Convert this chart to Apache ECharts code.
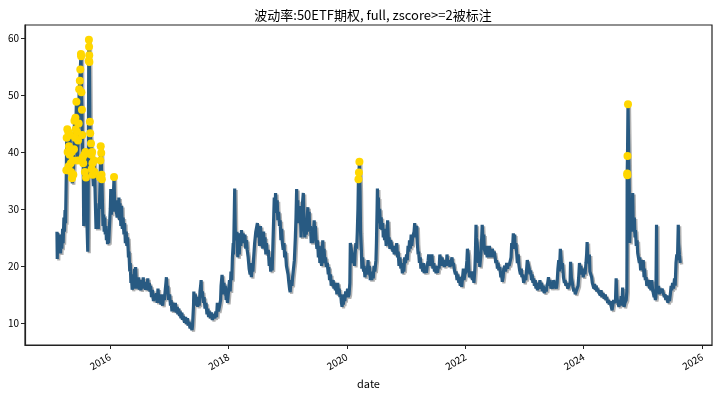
<!DOCTYPE html>
<html>
<head>
<meta charset="utf-8">
<script src="https://cdn.jsdelivr.net/npm/echarts@6/dist/echarts.min.js"></script>
<style>html,body{margin:0;padding:0;background:#fff}#c{width:720px;height:396px}</style>
</head>
<body>
<div id="c"></div>
<script>
const titleText = '波动率:50ETF期权, full, zscore>=2被标注';
const xName = 'date';
const yTicks = [10, 20, 30, 40, 50, 60];
const xTickDates = ['2016-01-01', '2018-01-01', '2020-01-01', '2022-01-01', '2024-01-01', '2026-01-01'];
const xTickLabels = ['2016', '2018', '2020', '2022', '2024', '2026'];
const markThreshold = 35;

const vol2015 = [
['2015-02-09',26.0],['2015-02-11',21.2],['2015-02-13',25.8],['2015-02-17',23.0],['2015-02-26',25.5],['2015-03-03',22.2],
['2015-03-06',25.0],['2015-03-11',23.0],['2015-03-16',26.5],['2015-03-19',24.0],['2015-03-24',28.5],['2015-03-27',26.0],
['2015-03-31',29.8],['2015-04-03',27.5],['2015-04-08',36.8],['2015-04-10',42.5],['2015-04-14',44.0],['2015-04-16',40.0],
['2015-04-20',43.5],['2015-04-22',37.5],['2015-04-24',41.0],['2015-04-28',39.5],['2015-04-30',43.0],['2015-05-05',38.0],
['2015-05-07',36.5],['2015-05-11',40.0],['2015-05-13',35.4],['2015-05-15',34.5],['2015-05-18',38.5],['2015-05-21',36.0],
['2015-05-25',40.5],['2015-05-28',45.5],['2015-06-01',42.5],['2015-06-03',46.0],['2015-06-05',44.0],['2015-06-09',48.8],
['2015-06-12',43.5],['2015-06-16',38.5],['2015-06-19',42.0],['2015-06-23',45.0],['2015-06-26',51.0],['2015-06-30',52.5],
['2015-07-03',54.5],['2015-07-07',57.2],['2015-07-08',56.8],['2015-07-10',50.5],['2015-07-13',47.4],['2015-07-15',43.0],
['2015-07-17',39.0],['2015-07-21',38.0],['2015-07-24',27.0],['2015-07-28',39.5],['2015-07-31',36.5],['2015-08-04',40.0],
['2015-08-07',35.5],['2015-08-11',30.0],['2015-08-14',26.5],['2015-08-18',22.5],['2015-08-20',30.0],['2015-08-24',56.0],
['2015-08-25',59.7],['2015-08-26',58.5],['2015-08-27',57.0],['2015-08-28',55.8],['2015-08-31',45.3],['2015-09-02',43.3],
['2015-09-07',41.5],['2015-09-09',39.5],['2015-09-11',37.0],['2015-09-14',40.0],['2015-09-16',38.0],['2015-09-18',36.0],
['2015-09-22',34.0],['2015-09-25',38.5],['2015-09-29',36.5],['2015-10-08',26.5],['2015-10-12',30.0],['2015-10-15',27.0],
['2015-10-19',29.5],['2015-10-22',26.5],['2015-10-26',31.0],['2015-10-29',30.0],['2015-11-02',35.5],['2015-11-04',38.5],
['2015-11-06',41.0],['2015-11-09',39.8],['2015-11-11',36.0],['2015-11-13',35.2],['2015-11-17',30.5],['2015-11-20',27.0],
['2015-11-24',29.0],['2015-11-27',26.0],['2015-12-01',28.5],['2015-12-04',25.5],['2015-12-08',27.0],['2015-12-11',24.5],
['2015-12-15',26.0],['2015-12-18',23.8],['2015-12-22',25.0],['2015-12-25',24.0],['2015-12-29',26.5]
];
const vol2016 = [
['2016-01-04',30.0],['2016-01-07',33.5],['2016-01-11',29.0],['2016-01-15',32.5],['2016-01-19',29.5],['2016-01-22',31.5],
['2016-01-27',35.6],['2016-01-29',33.0],['2016-02-02',29.5],['2016-02-05',31.0],['2016-02-15',28.5],['2016-02-18',31.5],
['2016-02-23',29.0],['2016-02-26',32.0],['2016-03-01',28.0],['2016-03-04',31.0],['2016-03-09',27.0],['2016-03-14',30.5],
['2016-03-18',26.5],['2016-03-23',28.5],['2016-03-28',25.5],['2016-04-01',27.5],['2016-04-06',24.0],['2016-04-11',26.0],
['2016-04-15',23.5],['2016-04-20',25.0],['2016-04-25',21.5],['2016-04-28',22.5],['2016-05-03',19.0],['2016-05-06',20.5],
['2016-05-10',17.0],['2016-05-13',18.5],['2016-05-18',15.8],['2016-05-23',17.5],['2016-05-27',16.0],['2016-06-01',19.5],
['2016-06-06',16.2],['2016-06-08',19.8],['2016-06-14',16.0],['2016-06-17',17.5],['2016-06-22',16.0],['2016-06-27',18.0],
['2016-07-01',15.8],['2016-07-06',17.0],['2016-07-11',15.7],['2016-07-15',17.5],['2016-07-20',16.0],['2016-07-25',18.0],
['2016-07-29',16.0],['2016-08-03',17.2],['2016-08-08',15.8],['2016-08-12',17.0],['2016-08-17',16.0],['2016-08-22',17.8],
['2016-08-26',15.7],['2016-08-31',17.0],['2016-09-05',15.5],['2016-09-09',16.5],['2016-09-14',14.5],['2016-09-20',15.8],
['2016-09-26',13.8],['2016-09-30',15.0],['2016-10-10',14.0],['2016-10-14',15.2],['2016-10-19',13.5],['2016-10-24',16.0],
['2016-10-28',14.5],['2016-11-02',13.5],['2016-11-08',15.0],['2016-11-11',13.2],['2016-11-16',14.5],['2016-11-22',13.0],
['2016-11-28',15.0],['2016-12-02',14.0],['2016-12-07',15.5],['2016-12-12',17.0],['2016-12-15',18.0],['2016-12-20',15.5],
['2016-12-23',16.5],['2016-12-28',14.0]
];
const vol2017 = [
['2017-01-04',15.0],['2017-01-09',13.0],['2017-01-13',14.0],['2017-01-18',12.0],['2017-01-23',13.5],['2017-02-03',12.0],
['2017-02-08',13.5],['2017-02-14',11.8],['2017-02-20',12.8],['2017-02-24',11.5],['2017-03-01',12.5],['2017-03-06',11.2],
['2017-03-10',12.0],['2017-03-15',10.8],['2017-03-20',11.8],['2017-03-24',10.5],['2017-03-30',11.2],['2017-04-06',10.0],
['2017-04-12',11.0],['2017-04-18',9.8],['2017-04-24',10.8],['2017-04-28',9.5],['2017-05-04',10.2],['2017-05-10',9.0],
['2017-05-15',9.8],['2017-05-22',8.7],['2017-05-25',9.5],['2017-05-31',13.0],['2017-06-02',15.5],['2017-06-07',13.0],
['2017-06-12',15.0],['2017-06-16',13.5],['2017-06-21',14.5],['2017-06-26',12.8],['2017-06-30',14.5],['2017-07-05',13.0],
['2017-07-10',15.5],['2017-07-14',16.5],['2017-07-17',17.5],['2017-07-20',14.5],['2017-07-25',15.5],['2017-07-31',13.5],
['2017-08-04',14.5],['2017-08-10',12.5],['2017-08-16',13.5],['2017-08-22',11.5],['2017-08-28',12.5],['2017-09-01',11.0],
['2017-09-07',12.0],['2017-09-13',10.8],['2017-09-19',11.8],['2017-09-25',10.5],['2017-09-29',11.5],['2017-10-10',10.8],
['2017-10-16',12.0],['2017-10-20',11.0],['2017-10-25',13.5],['2017-11-01',12.0],['2017-11-08',13.0],['2017-11-14',14.0],
['2017-11-17',16.5],['2017-11-23',18.4],['2017-11-27',17.0],['2017-11-30',15.0],['2017-12-05',17.0],['2017-12-08',15.5],
['2017-12-13',16.5],['2017-12-18',14.0],['2017-12-22',14.5],['2017-12-27',13.5]
];
const vol2018 = [
['2018-01-03',16.0],['2018-01-08',17.5],['2018-01-12',15.5],['2018-01-17',19.0],['2018-01-22',17.5],['2018-01-26',21.5],
['2018-01-31',24.0],['2018-02-02',22.0],['2018-02-06',28.5],['2018-02-09',33.6],['2018-02-12',27.0],['2018-02-14',24.5],
['2018-02-23',26.0],['2018-02-28',21.5],['2018-03-05',24.5],['2018-03-09',22.0],['2018-03-14',25.7],['2018-03-19',23.5],
['2018-03-23',26.3],['2018-03-28',24.0],['2018-04-02',25.7],['2018-04-09',24.0],['2018-04-13',25.5],['2018-04-18',23.0],
['2018-04-23',24.5],['2018-04-27',22.8],['2018-05-03',21.5],['2018-05-09',19.5],['2018-05-15',18.5],['2018-05-18',20.5],
['2018-05-23',18.0],['2018-05-28',20.0],['2018-06-01',19.0],['2018-06-06',21.5],['2018-06-12',24.0],['2018-06-19',26.0],
['2018-06-25',25.7],['2018-06-29',27.5],['2018-07-04',25.0],['2018-07-09',26.5],['2018-07-13',23.5],['2018-07-18',27.0],
['2018-07-23',24.0],['2018-07-27',25.5],['2018-08-01',23.0],['2018-08-06',26.0],['2018-08-10',23.5],['2018-08-15',25.0],
['2018-08-20',22.0],['2018-08-24',24.0],['2018-08-29',22.0],['2018-09-04',22.8],['2018-09-10',20.0],['2018-09-14',21.5],
['2018-09-19',19.0],['2018-09-25',20.5],['2018-09-28',19.2],['2018-10-08',29.0],['2018-10-11',32.0],['2018-10-16',30.0],
['2018-10-19',32.8],['2018-10-24',29.3],['2018-10-29',31.5],['2018-11-02',28.0],['2018-11-07',29.5],['2018-11-12',27.0],
['2018-11-16',28.0],['2018-11-21',24.5],['2018-11-26',26.5],['2018-11-30',24.0],['2018-12-05',22.8],['2018-12-10',24.0],
['2018-12-14',21.5],['2018-12-19',22.5],['2018-12-25',20.0],['2018-12-28',19.8]
];
const vol2019 = [
['2019-01-04',18.5],['2019-01-09',17.0],['2019-01-14',15.8],['2019-01-17',15.4],['2019-01-22',17.5],['2019-01-28',16.5],
['2019-02-01',18.0],['2019-02-12',21.0],['2019-02-18',25.0],['2019-02-22',28.5],['2019-02-26',33.5],['2019-03-01',30.0],
['2019-03-05',31.5],['2019-03-08',27.5],['2019-03-12',30.0],['2019-03-15',28.0],['2019-03-20',30.5],['2019-03-25',25.0],
['2019-03-29',28.0],['2019-04-03',31.0],['2019-04-08',32.8],['2019-04-12',28.5],['2019-04-17',25.0],['2019-04-22',27.0],
['2019-04-26',25.5],['2019-05-06',30.3],['2019-05-09',27.5],['2019-05-14',29.5],['2019-05-17',26.0],['2019-05-22',27.0],
['2019-05-27',24.0],['2019-05-31',25.5],['2019-06-05',24.0],['2019-06-11',26.5],['2019-06-14',28.0],['2019-06-18',25.5],
['2019-06-21',27.0],['2019-06-26',24.5],['2019-07-01',23.0],['2019-07-05',24.5],['2019-07-10',21.5],['2019-07-15',23.5],
['2019-07-19',20.5],['2019-07-24',22.0],['2019-07-30',20.0],['2019-08-02',21.5],['2019-08-06',24.5],['2019-08-09',22.0],
['2019-08-14',23.0],['2019-08-19',20.5],['2019-08-23',21.5],['2019-08-28',19.8],['2019-09-03',20.5],['2019-09-09',18.5],
['2019-09-12',19.8],['2019-09-17',17.5],['2019-09-23',18.5],['2019-09-27',16.5],['2019-10-09',17.5],['2019-10-14',16.0],
['2019-10-18',17.0],['2019-10-23',15.7],['2019-10-28',16.5],['2019-11-01',15.0],['2019-11-06',17.0],['2019-11-11',15.5],
['2019-11-15',16.0],['2019-11-20',14.5],['2019-11-25',15.0],['2019-11-29',13.5],['2019-12-03',12.8],['2019-12-06',14.0],
['2019-12-11',13.2],['2019-12-16',15.0],['2019-12-20',13.8],['2019-12-25',15.5],['2019-12-31',14.5]
];
const vol2020 = [
['2020-01-06',16.0],['2020-01-10',14.5],['2020-01-15',15.0],['2020-01-20',17.0],['2020-01-23',24.0],['2020-02-03',22.0],
['2020-02-07',20.5],['2020-02-12',21.5],['2020-02-18',20.0],['2020-02-21',22.0],['2020-02-26',24.0],['2020-03-02',23.0],
['2020-03-06',26.0],['2020-03-10',30.0],['2020-03-13',35.2],['2020-03-16',36.4],['2020-03-19',38.3],['2020-03-23',33.0],
['2020-03-26',26.0],['2020-03-31',22.8],['2020-04-03',19.5],['2020-04-08',21.5],['2020-04-14',19.0],['2020-04-17',20.0],
['2020-04-22',18.0],['2020-04-27',19.5],['2020-05-06',18.5],['2020-05-11',21.0],['2020-05-15',18.5],['2020-05-20',20.0],
['2020-05-25',17.5],['2020-05-29',19.0],['2020-06-03',17.5],['2020-06-08',18.5],['2020-06-12',17.8],['2020-06-17',20.0],
['2020-06-22',19.0],['2020-06-29',21.0],['2020-07-02',24.0],['2020-07-06',30.0],['2020-07-08',33.6],['2020-07-10',30.5],
['2020-07-14',32.0],['2020-07-17',27.5],['2020-07-22',30.0],['2020-07-27',26.5],['2020-07-31',28.5],['2020-08-05',26.3],
['2020-08-10',27.5],['2020-08-13',25.0],['2020-08-18',26.5],['2020-08-21',24.5],['2020-08-26',26.0],['2020-08-31',23.5],
['2020-09-04',25.5],['2020-09-09',28.0],['2020-09-14',24.0],['2020-09-18',25.0],['2020-09-23',23.0],['2020-09-28',24.5],
['2020-10-12',22.5],['2020-10-15',23.5],['2020-10-20',22.0],['2020-10-26',23.5],['2020-10-30',22.0],['2020-11-04',24.0],
['2020-11-09',21.5],['2020-11-13',22.5],['2020-11-18',20.0],['2020-11-24',21.5],['2020-11-30',19.5],['2020-12-04',20.5],
['2020-12-09',18.7],['2020-12-14',20.0],['2020-12-18',19.0],['2020-12-23',21.5],['2020-12-28',20.5]
];
const vol2021 = [
['2021-01-04',22.0],['2021-01-08',21.0],['2021-01-13',23.5],['2021-01-18',22.5],['2021-01-22',24.5],['2021-01-27',23.0],
['2021-02-01',25.5],['2021-02-05',23.5],['2021-02-10',25.0],['2021-02-19',26.0],['2021-02-23',27.5],['2021-02-26',25.0],
['2021-03-03',26.5],['2021-03-08',27.0],['2021-03-11',24.0],['2021-03-16',22.0],['2021-03-19',22.5],['2021-03-24',20.5],
['2021-03-29',21.5],['2021-04-02',19.5],['2021-04-08',20.5],['2021-04-13',19.0],['2021-04-19',20.5],['2021-04-23',18.7],
['2021-04-28',19.5],['2021-05-06',18.8],['2021-05-11',20.0],['2021-05-17',21.0],['2021-05-20',22.0],['2021-05-25',20.0],
['2021-05-31',21.5],['2021-06-04',20.5],['2021-06-09',22.0],['2021-06-15',19.5],['2021-06-21',20.5],['2021-06-25',19.0],
['2021-06-30',20.0],['2021-07-05',18.7],['2021-07-09',19.5],['2021-07-14',18.8],['2021-07-19',20.0],['2021-07-23',19.5],
['2021-07-28',22.0],['2021-08-02',21.0],['2021-08-06',20.0],['2021-08-11',21.5],['2021-08-16',20.0],['2021-08-20',21.0],
['2021-08-25',19.8],['2021-08-31',21.0],['2021-09-06',20.0],['2021-09-10',22.0],['2021-09-15',20.5],['2021-09-22',21.0],
['2021-09-28',19.8],['2021-10-11',21.5],['2021-10-15',20.0],['2021-10-20',20.5],['2021-10-26',19.2],['2021-11-01',18.5],
['2021-11-05',19.0],['2021-11-11',17.5],['2021-11-16',18.5],['2021-11-22',17.0],['2021-11-26',18.0],['2021-12-01',16.5],
['2021-12-06',17.5],['2021-12-10',16.3],['2021-12-15',18.0],['2021-12-20',19.5],['2021-12-24',17.5],['2021-12-29',18.5]
];
const vol2022 = [
['2022-01-05',19.0],['2022-01-11',21.0],['2022-01-14',23.0],['2022-01-19',22.0],['2022-01-24',19.0],['2022-01-28',18.0],
['2022-02-08',19.0],['2022-02-14',17.5],['2022-02-18',18.5],['2022-02-23',17.0],['2022-03-01',19.5],['2022-03-04',22.0],
['2022-03-08',27.2],['2022-03-10',25.0],['2022-03-15',24.0],['2022-03-18',22.8],['2022-03-23',20.5],['2022-03-28',21.5],
['2022-03-31',19.8],['2022-04-07',22.0],['2022-04-12',25.0],['2022-04-15',27.2],['2022-04-20',24.5],['2022-04-25',25.5],
['2022-04-28',23.0],['2022-05-06',22.0],['2022-05-11',23.5],['2022-05-16',21.5],['2022-05-20',22.5],['2022-05-25',21.5],
['2022-05-30',23.5],['2022-06-02',22.0],['2022-06-08',22.5],['2022-06-13',21.5],['2022-06-17',23.0],['2022-06-22',21.5],
['2022-06-28',22.5],['2022-07-04',21.5],['2022-07-08',20.5],['2022-07-13',21.0],['2022-07-18',19.5],['2022-07-22',20.5],
['2022-07-27',19.2],['2022-08-02',19.8],['2022-08-08',18.0],['2022-08-12',19.0],['2022-08-17',17.2],['2022-08-22',18.0],
['2022-08-26',19.5],['2022-09-01',20.0],['2022-09-06',19.0],['2022-09-13',20.5],['2022-09-19',19.5],['2022-09-23',20.5],
['2022-09-28',20.0],['2022-10-10',21.5],['2022-10-14',24.0],['2022-10-19',23.0],['2022-10-24',25.7],['2022-10-27',24.5],
['2022-11-01',25.5],['2022-11-04',23.0],['2022-11-09',24.0],['2022-11-14',22.0],['2022-11-18',20.5],['2022-11-23',22.0],
['2022-11-28',20.0],['2022-12-02',19.2],['2022-12-07',18.5],['2022-12-12',19.5],['2022-12-16',18.0],['2022-12-21',18.5],
['2022-12-27',17.0]
];
const vol2023 = [
['2023-01-04',18.0],['2023-01-09',17.5],['2023-01-13',19.0],['2023-01-18',21.0],['2023-01-30',19.5],['2023-02-03',18.5],
['2023-02-08',19.2],['2023-02-13',17.5],['2023-02-17',18.5],['2023-02-22',17.0],['2023-02-27',17.8],['2023-03-03',16.5],
['2023-03-08',17.5],['2023-03-13',16.0],['2023-03-17',17.0],['2023-03-22',15.7],['2023-03-27',16.5],['2023-03-31',16.0],
['2023-04-06',17.5],['2023-04-11',16.0],['2023-04-17',17.0],['2023-04-21',15.5],['2023-04-26',16.5],['2023-05-04',15.2],
['2023-05-09',16.0],['2023-05-15',15.5],['2023-05-19',16.5],['2023-05-24',17.0],['2023-05-29',18.0],['2023-06-02',16.5],
['2023-06-08',17.5],['2023-06-13',16.0],['2023-06-19',17.0],['2023-06-26',16.0],['2023-06-30',17.5],['2023-07-05',16.5],
['2023-07-11',17.0],['2023-07-17',16.0],['2023-07-21',17.0],['2023-07-26',19.5],['2023-07-31',21.0],['2023-08-04',19.0],
['2023-08-10',23.0],['2023-08-15',21.0],['2023-08-18',19.5],['2023-08-23',20.5],['2023-08-29',18.0],['2023-09-04',17.0],
['2023-09-08',17.5],['2023-09-13',16.5],['2023-09-19',17.0],['2023-09-25',16.0],['2023-10-09',17.0],['2023-10-12',20.7],
['2023-10-17',18.0],['2023-10-23',17.0],['2023-10-27',16.3],['2023-11-01',15.5],['2023-11-06',16.0],['2023-11-10',15.0],
['2023-11-15',15.5],['2023-11-21',15.2],['2023-11-27',16.5],['2023-12-01',18.0],['2023-12-06',20.5],['2023-12-11',19.0],
['2023-12-15',20.0],['2023-12-20',18.5],['2023-12-26',19.0],['2023-12-29',18.0]
];
const vol2024 = [
['2024-01-04',19.5],['2024-01-09',18.5],['2024-01-15',20.5],['2024-01-19',22.0],['2024-01-22',24.2],['2024-01-26',21.0],
['2024-01-31',20.5],['2024-02-05',22.0],['2024-02-08',19.0],['2024-02-19',18.0],['2024-02-23',17.0],['2024-02-28',16.5],
['2024-03-04',16.0],['2024-03-08',16.8],['2024-03-13',15.8],['2024-03-18',16.5],['2024-03-22',15.5],['2024-03-27',16.0],
['2024-04-01',15.5],['2024-04-08',15.8],['2024-04-12',14.8],['2024-04-17',15.7],['2024-04-23',14.5],['2024-04-29',15.2],
['2024-05-08',14.2],['2024-05-13',15.0],['2024-05-17',14.0],['2024-05-22',14.5],['2024-05-28',13.5],['2024-06-03',14.0],
['2024-06-07',13.2],['2024-06-13',13.8],['2024-06-19',12.8],['2024-06-24',12.2],['2024-06-28',13.0],['2024-07-03',14.0],
['2024-07-09',13.5],['2024-07-15',14.0],['2024-07-19',17.8],['2024-07-23',15.0],['2024-07-26',14.0],['2024-07-31',13.5],
['2024-08-05',12.8],['2024-08-09',14.0],['2024-08-14',13.0],['2024-08-19',14.7],['2024-08-23',13.0],['2024-08-28',16.2],
['2024-09-02',13.5],['2024-09-06',12.8],['2024-09-11',13.5],['2024-09-19',14.0],['2024-09-23',15.5],['2024-09-24',23.0],
['2024-09-25',36.2],['2024-09-26',35.9],['2024-09-27',39.3],['2024-09-30',48.4],['2024-10-08',33.0],['2024-10-09',30.0],
['2024-10-11',24.0],['2024-10-14',28.0],['2024-10-17',26.0],['2024-10-21',30.0],['2024-10-24',27.0],['2024-10-29',32.8],
['2024-11-01',27.5],['2024-11-05',26.0],['2024-11-08',28.5],['2024-11-12',25.0],['2024-11-15',26.3],['2024-11-20',23.5],
['2024-11-25',24.5],['2024-11-29',22.2],['2024-12-04',22.5],['2024-12-09',20.5],['2024-12-12',21.5],['2024-12-17',19.2],
['2024-12-23',20.5],['2024-12-27',19.5]
];
const vol2025 = [
['2025-01-02',21.0],['2025-01-07',18.0],['2025-01-10',19.5],['2025-01-15',17.5],['2025-01-20',18.0],['2025-01-24',16.5],
['2025-02-05',17.5],['2025-02-10',16.0],['2025-02-14',17.0],['2025-02-19',15.7],['2025-02-24',17.5],['2025-02-28',16.0],
['2025-03-05',15.7],['2025-03-10',14.5],['2025-03-14',15.0],['2025-03-18',14.0],['2025-03-21',14.5],['2025-03-25',27.2],
['2025-03-27',16.5],['2025-04-01',15.5],['2025-04-07',16.5],['2025-04-11',15.0],['2025-04-16',16.0],['2025-04-22',15.2],
['2025-04-28',16.0],['2025-05-06',15.7],['2025-05-12',14.5],['2025-05-16',15.0],['2025-05-21',14.0],['2025-05-27',14.8],
['2025-06-03',13.5],['2025-06-09',14.5],['2025-06-13',13.8],['2025-06-18',15.0],['2025-06-23',16.5],['2025-06-27',15.7],
['2025-07-02',17.0],['2025-07-08',16.0],['2025-07-14',17.8],['2025-07-18',16.5],['2025-07-23',20.5],['2025-07-28',22.0],
['2025-08-01',21.0],['2025-08-06',27.2],['2025-08-08',24.0],['2025-08-13',22.0],['2025-08-18',20.5]
];

const vol = [].concat(vol2015, vol2016, vol2017, vol2018, vol2019, vol2020, vol2021, vol2022, vol2023, vol2024, vol2025);
const marks = vol.filter(p => p[1] >= markThreshold);

const FONT = '"Noto Sans CJK SC", "Noto Sans", sans-serif';
const ts = d => echarts.time.parse(d).getTime();
const xTickValues = xTickDates.map(ts);
const lineData = vol.map(p => [ts(p[0]), p[1]]);
const markData = marks.map(p => [ts(p[0]), p[1]]);

const chart = echarts.init(document.getElementById('c'), null, {renderer: 'canvas'});
chart.setOption({
  animation: false,
  backgroundColor: '#ffffff',
  title: {
    text: titleText, left: 368, top: 4, textAlign: 'center',
    textStyle: {fontFamily: FONT, fontSize: 13, fontWeight: 'normal', color: '#000'}
  },
  grid: {left: 25, right: 8, top: 25, bottom: 51, show: true, borderColor: '#222', borderWidth: 1.2, backgroundColor: 'transparent'},
  xAxis: {
    type: 'value',
    min: ts('2014-07-27'),
    max: ts('2026-03-02'),
    name: xName, nameLocation: 'middle', nameGap: 31,
    nameTextStyle: {fontFamily: FONT, fontSize: 11, color: '#000'},
    axisLine: {show: true, onZero: false, lineStyle: {color: '#222', width: 1.2}},
    axisTick: {show: true, inside: false, length: 4, customValues: xTickValues, lineStyle: {color: '#222'}},
    axisLabel: {
      show: true, rotate: 30, margin: 11, customValues: xTickValues,
      fontFamily: FONT, fontSize: 10, color: '#000',
      formatter: v => { const i = xTickValues.indexOf(v); return i >= 0 ? xTickLabels[i] : ''; }
    },
    splitLine: {show: false}
  },
  yAxis: {
    type: 'value', min: 6.1, max: 62.3,
    axisLine: {show: true, onZero: false, lineStyle: {color: '#222', width: 1.2}},
    axisTick: {show: true, length: 4, customValues: yTicks, lineStyle: {color: '#222'}},
    axisLabel: {show: true, customValues: yTicks, margin: 6, fontFamily: FONT, fontSize: 10, color: '#000'},
    splitLine: {show: false}
  },
  series: [
    {
      type: 'line', data: lineData, showSymbol: false, symbol: 'none', smooth: false,
      lineStyle: {color: '#285a82', width: 3.2, shadowColor: 'rgba(0,0,0,0.3)', shadowOffsetX: 1.5, shadowOffsetY: 1.5, shadowBlur: 0.5},
      z: 2
    },
    {
      type: 'scatter', data: markData, symbol: 'circle', symbolSize: 8,
      itemStyle: {color: '#FFD700', opacity: 1},
      z: 3
    }
  ]
});
</script>
</body>
</html>
